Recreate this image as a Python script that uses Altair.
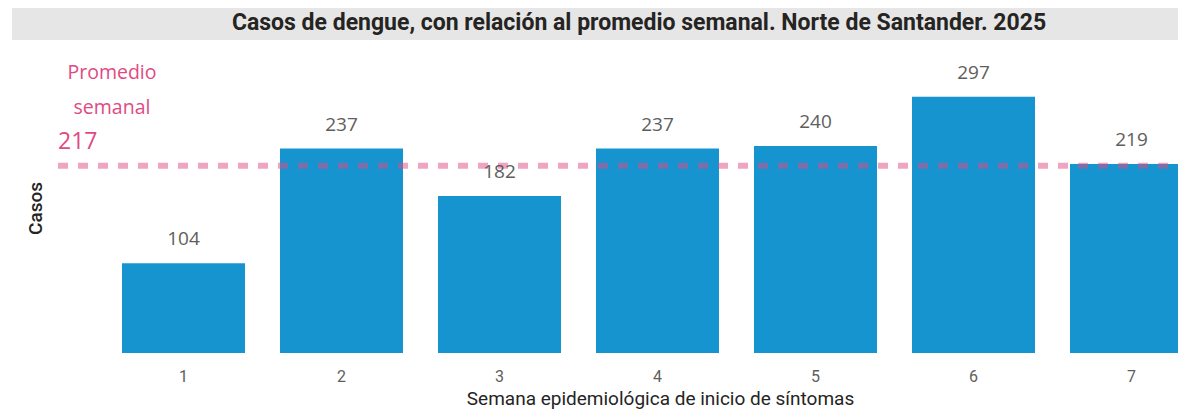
import altair as alt
import pandas as pd

# ---- data ----
weeks = ["1", "2", "3", "4", "5", "6", "7"]
cases = [104, 237, 182, 237, 240, 297, 219]
avg_value = 217
avg_lines = ["Promedio", "semanal"]
title_text = "Casos de dengue, con relación al promedio semanal. Norte de Santander. 2025"
x_title = "Semana epidemiológica de inicio de síntomas"
y_title = "Casos"

df = pd.DataFrame({"semana": weeks, "casos": cases})
avg_df = pd.DataFrame({"promedio": [avg_value], "linea1": [avg_lines[0]],
                       "linea2": [avg_lines[1]], "valor": [str(avg_value)]})

W, H = 1120, 302
DIN = "Roboto"
SEGOE = "Open Sans"
BAR = "#1694D0"
PINK = "#E04A84"
DARK = "#252423"
GRAY = "#605E5C"

x_scale = alt.Scale(range=[0, 1135], paddingInner=0.2215, paddingOuter=0.2025, align=1)

x_enc = alt.X(
    "semana:N", sort=weeks, scale=x_scale,
    axis=alt.Axis(title=x_title, labelAngle=0, domain=False, ticks=False, grid=False,
                  labelFont=DIN, labelFontSize=16, labelColor=GRAY, labelPadding=15,
                  titleFont=DIN, titleFontSize=19, titleFontWeight="normal", titleColor=DARK,
                  titleX=602, titleY=45, titleAlign="center", titleBaseline="middle"),
)
y_enc = alt.Y(
    "casos:Q", scale=alt.Scale(domain=[0, 350]),
    axis=alt.Axis(title=y_title, labels=False, ticks=False, domain=False, grid=False,
                  titleFont=DIN, titleFontSize=19, titleFontWeight=500, titleColor=DARK,
                  titleX=-23, titleY=157, titleBaseline="middle", titleAlign="center"),
)

base = alt.Chart(df)

title_bg = alt.Chart(avg_df).mark_rect(color="#E6E6E6").encode(
    x=alt.value(-46), x2=alt.value(W), y=alt.value(-43), y2=alt.value(-11)
)
title_mark = alt.Chart(avg_df).mark_text(
    text=title_text, font=DIN, fontSize=23, fontWeight="bold", color=DARK,
    align="center", baseline="middle"
).encode(x=alt.value(581), y=alt.value(-28))

bars = base.mark_bar(color=BAR, clip=True).encode(x=x_enc, y=y_enc)

rule = alt.Chart(avg_df).mark_rule(
    color=PINK, opacity=0.5, strokeWidth=6, strokeDash=[10, 10]
).encode(y=alt.Y("promedio:Q"), x=alt.value(0), x2=alt.value(W))

labels = base.mark_text(
    dy=-24, font=SEGOE, fontSize=19, color=GRAY, baseline="middle"
).encode(x=alt.X("semana:N", sort=weeks), y="casos:Q", text="casos:Q")

avg_l1 = alt.Chart(avg_df).mark_text(
    dy=-93, font=SEGOE, fontSize=19.5, color=PINK, baseline="middle", align="center"
).encode(y="promedio:Q", x=alt.value(54), text="linea1:N")
avg_l2 = alt.Chart(avg_df).mark_text(
    dy=-58, font=SEGOE, fontSize=19.5, color=PINK, baseline="middle", align="center"
).encode(y="promedio:Q", x=alt.value(54), text="linea2:N")
avg_v = alt.Chart(avg_df).mark_text(
    dy=-24, font=SEGOE, fontSize=23, color=PINK, baseline="middle", align="left"
).encode(y="promedio:Q", x=alt.value(0), text="valor:N")

chart = alt.layer(
    title_bg, title_mark, bars, rule, labels, avg_l1, avg_l2, avg_v
).properties(
    width=W, height=H,
    autosize=alt.AutoSizeParams(type="none"),
    padding={"left": 50, "top": 43, "right": 0, "bottom": 56},
).configure_view(stroke=None)

chart.save("out.html", embed_options={"renderer": "svg", "actions": False})
